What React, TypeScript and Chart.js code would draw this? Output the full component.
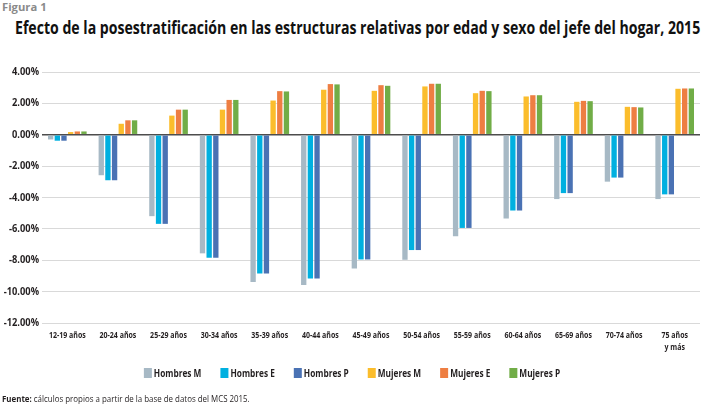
import React, { useEffect, useLayoutEffect, useRef } from 'react';
import { Chart, registerables } from 'chart.js';
Chart.register(...registerables);

const categories: (string | string[])[] = [
  '12-19 años', '20-24 años', '25-29 años', '30-34 años', '35-39 años', '40-44 años',
  '45-49 años', '50-54 años', '55-59 años', '60-64 años', '65-69 años', '70-74 años',
  ['75 años', 'y más'],
];

const hombresM = [-0.3, -2.58, -5.19, -7.56, -9.38, -9.57, -8.52, -7.97, -6.47, -5.34, -4.1, -2.99, -4.1];
const hombresE = [-0.38, -2.9, -5.68, -7.84, -8.85, -9.17, -7.95, -7.35, -5.94, -4.83, -3.72, -2.73, -3.8];
const hombresP = [-0.38, -2.9, -5.68, -7.84, -8.85, -9.17, -7.95, -7.35, -5.94, -4.83, -3.72, -2.73, -3.8];
const mujeresM = [0.17, 0.7, 1.22, 1.6, 2.18, 2.87, 2.8, 3.08, 2.65, 2.44, 2.1, 1.78, 2.93];
const mujeresE = [0.21, 0.92, 1.6, 2.22, 2.78, 3.23, 3.16, 3.25, 2.8, 2.52, 2.16, 1.76, 2.95];
const mujeresP = [0.21, 0.92, 1.6, 2.22, 2.76, 3.21, 3.12, 3.25, 2.78, 2.52, 2.14, 1.74, 2.95];

const seriesNames = ['Hombres M', 'Hombres E', 'Hombres P', 'Mujeres M', 'Mujeres E', 'Mujeres P'];
const seriesColors = ['#a7b9c5', '#00b0e0', '#4a72b4', '#fbbd2c', '#ee7e42', '#71ad47'];

const FONT = "'Open Sans', 'Noto Sans', sans-serif";
const TEXT = '#231f20';

function condText(ctx: CanvasRenderingContext2D, text: string, x: number, y: number, align: CanvasTextAlign, sx: number) {
  ctx.save();
  ctx.translate(x, y);
  ctx.scale(sx, 1);
  ctx.textAlign = align;
  ctx.fillText(text, 0, 0);
  ctx.restore();
}

const textPlugin = {
  id: 'condensedText',
  afterDraw(chart: any) {
    const ctx: CanvasRenderingContext2D = chart.ctx;
    const xs = chart.scales.x;
    const ys = chart.scales.y;
    ctx.save();
    ctx.fillStyle = TEXT;
    ctx.textBaseline = 'middle';
    // y tick labels
    ctx.font = `bold 10.8px ${FONT}`;
    ys.ticks.forEach((t: any, i: number) => {
      const y = ys.getPixelForTick(i);
      condText(ctx, Number(t.value).toFixed(2) + '%', chart.chartArea.left - 3, y, 'right', 0.86);
    });
    // x tick labels
    ctx.textBaseline = 'alphabetic';
    ctx.font = `bold 9px ${FONT}`;
    const labels = chart.data.labels;
    labels.forEach((lab: any, i: number) => {
      const x = xs.getPixelForTick(i);
      const lines = Array.isArray(lab) ? lab : [lab];
      lines.forEach((ln: string, j: number) => {
        condText(ctx, ln, x, chart.chartArea.bottom + 15 + j * 12, 'center', 0.78);
      });
    });
    // legend
    ctx.font = `bold 11.2px ${FONT}`;
    ctx.textBaseline = 'middle';
    const sx = 0.74;
    const boxW = 8, boxH = 10, gapBT = 2, gapItems = 19;
    const ds = chart.data.datasets;
    const widths = ds.map((d: any) => boxW + gapBT + ctx.measureText(d.label).width * sx);
    const total = widths.reduce((a: number, b: number) => a + b, 0) + gapItems * (ds.length - 1);
    let x = chart.width / 2 - total / 2;
    const ly = chart.chartArea.bottom + 50;
    ds.forEach((d: any, i: number) => {
      ctx.fillStyle = d.backgroundColor;
      ctx.fillRect(x, ly - boxH / 2, boxW, boxH);
      ctx.fillStyle = TEXT;
      condText(ctx, d.label, x + boxW + gapBT, ly + 0.5, 'left', sx);
      x += widths[i] + gapItems;
    });
    ctx.restore();
  },
};

function FitText({ width, style, children }: { width: number; style: React.CSSProperties; children: React.ReactNode }) {
  const ref = useRef<HTMLDivElement | null>(null);
  useLayoutEffect(() => {
    const el = ref.current;
    if (!el) return;
    el.style.transform = 'none';
    const w = el.scrollWidth;
    if (w > 0) el.style.transform = `scaleX(${width / w})`;
  }, [width]);
  return (
    <div ref={ref} style={{ position: 'absolute', whiteSpace: 'nowrap', transformOrigin: 'left top', ...style }}>
      {children}
    </div>
  );
}

export default function App() {
  const ref = useRef<HTMLCanvasElement | null>(null);
  useEffect(() => {
    if (!ref.current) return;
    const values = [hombresM, hombresE, hombresP, mujeresM, mujeresE, mujeresP];
    const chart = new Chart(ref.current, {
      type: 'bar',
      data: {
        labels: categories as any,
        datasets: values.map((v, i) => ({
          label: seriesNames[i],
          data: v,
          backgroundColor: seriesColors[i],
          borderWidth: 0,
          categoryPercentage: 0.79,
          barPercentage: 0.8,
        })),
      },
      options: {
        animation: false,
        responsive: false,
        maintainAspectRatio: false,
        layout: { padding: { top: 72, right: 4, bottom: 84, left: 42 } },
        plugins: {
          title: { display: false },
          tooltip: { enabled: false },
          legend: { display: false },
        },
        scales: {
          x: {
            grid: { display: false },
            border: { display: false },
            ticks: { display: false },
            afterFit: (s: any) => { s.height = 0; },
          },
          y: {
            min: -12,
            max: 4,
            border: { display: false },
            grid: {
              color: (c: any) => (c.tick && c.tick.value === 0 ? '#4d4d4d' : '#d9d9d9'),
              lineWidth: (c: any) => (c.tick && c.tick.value === 0 ? 1.6 : 1),
              drawTicks: false,
            },
            ticks: { display: false, stepSize: 2 },
            afterFit: (s: any) => { s.width = 0; },
          },
        },
      },
      plugins: [textPlugin],
    });
    return () => chart.destroy();
  }, []);

  return (
    <div style={{ position: 'absolute', left: 0, top: 0, width: 704, height: 407, background: '#fff', overflow: 'hidden' }}>
      <FitText width={45} style={{ left: 2, top: 0, fontFamily: FONT, fontWeight: 'bold', fontSize: 10, lineHeight: '14px', color: '#8a8a8a' }}>
        Figura 1
      </FitText>
      <FitText width={685} style={{ left: 15, top: 15, fontFamily: FONT, fontWeight: 'bold', fontSize: 17.8, lineHeight: '24px', color: '#111' }}>
        Efecto de la posestratificación en las estructuras relativas por edad y sexo del jefe del hogar, 2015
      </FitText>
      <canvas ref={ref} width={704} height={407} style={{ position: 'absolute', left: 0, top: 0 }} />
      <FitText width={248} style={{ left: 2, top: 392, fontFamily: FONT, fontSize: 9.4, lineHeight: '13px', color: TEXT }}>
        <b>Fuente:</b> cálculos propios a partir de la base de datos del MCS 2015.
      </FitText>
    </div>
  );
}
